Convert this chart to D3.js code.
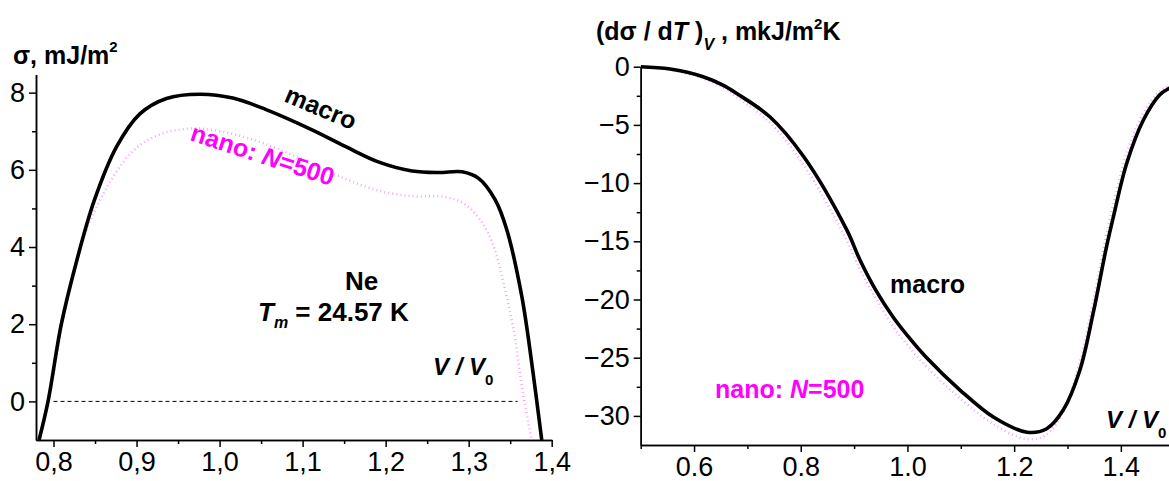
<!DOCTYPE html>
<html>
<head>
<meta charset="utf-8">
<script src="https://cdn.jsdelivr.net/npm/d3@7"></script>
<style>
  body { margin: 0; background: #fff; }
  svg { font-family: "Liberation Sans", Arial, sans-serif; }
  .tick text { font-size: 27px; fill: #000; }
  .axis path, .axis line { stroke: #000; stroke-width: 1.5; }
</style>
</head>
<body>
<script>
// left panel: surface tension sigma vs V/V0
const leftMacroV = [0.7826, 0.7934, 0.8094, 0.8274, 0.849, 0.876, 0.904, 0.936, 0.976, 1.016, 1.056, 1.112, 1.152, 1.192, 1.232, 1.264, 1.292, 1.312, 1.332, 1.346, 1.364, 1.376, 1.388]
const leftMacroS = [-1, 0, 2, 3.6, 5.2, 6.6, 7.45, 7.85, 7.96, 7.86, 7.56, 7.03, 6.6, 6.2, 5.97, 5.93, 5.95, 5.78, 5.22, 4.44, 2.72, 0.99, -1]
const leftNanoV = [0.797, 0.8, 0.814, 0.834, 0.858, 0.894, 0.926, 0.966, 1.006, 1.054, 1.11, 1.15, 1.19, 1.23, 1.27, 1.294, 1.314, 1.328, 1.338, 1.354, 1.366, 1.376]
const leftNanoS = [0.4, 0.74, 2.37, 4.1, 5.3, 6.45, 6.9, 7.07, 6.98, 6.68, 6.17, 5.78, 5.47, 5.32, 5.3, 5.13, 4.7, 4.14, 3.41, 1.86, 0.13, -1]
const leftXTicks = [0.8, 0.9, 1.0, 1.1, 1.2, 1.3, 1.4]
const leftXMinor = [0.85, 0.95, 1.05, 1.15, 1.25, 1.35]
const leftYTicks = [0, 2, 4, 6, 8]
const leftYMinor = [1, 3, 5, 7]

// right panel: (dsigma/dT)_V vs V/V0
const rightMacroV = [0.5, 0.555, 0.617, 0.655, 0.68, 0.742, 0.805, 0.886, 0.911, 0.942, 0.973, 1.0, 1.036, 1.099, 1.161, 1.224, 1.261, 1.292, 1.323, 1.348, 1.373, 1.386, 1.411, 1.442, 1.473, 1.489, 1.5]
const rightMacroD = [0, -0.2, -0.86, -1.6, -2.3, -4.3, -7.7, -14.0, -16.6, -19.3, -21.5, -23.1, -25.0, -27.8, -30.1, -31.4, -31.1, -29.5, -26.1, -21.2, -15.5, -12.9, -8.3, -4.6, -2.4, -1.9, -1.7]
const rightNanoV = [0.5, 0.555, 0.617, 0.655, 0.68, 0.742, 0.805, 0.886, 0.911, 0.942, 0.973, 1.0, 1.036, 1.099, 1.161, 1.224, 1.261, 1.292, 1.323, 1.348, 1.373, 1.386, 1.411, 1.442, 1.473, 1.489]
const rightNanoD = [0, -0.25, -1.0, -1.8, -2.6, -4.8, -8.4, -14.9, -17.4, -20.0, -22.3, -23.9, -25.8, -28.5, -30.7, -32.0, -31.6, -29.6, -25.4, -20.2, -14.4, -11.8, -7.4, -4.0, -2.1, -1.7]
const rightXTicks = [0.6, 0.8, 1.0, 1.2, 1.4]
const rightXMinor = [0.5, 0.7, 0.9, 1.1, 1.3, 1.5]
const rightYTicks = [0, -5, -10, -15, -20, -25, -30]
const rightYMinor = [-2.5, -7.5, -12.5, -17.5, -22.5, -27.5]

let w = 1169
let h = 481
const nanoColor = '#f49cf4'
const labelMagenta = '#ff00ff'

let svg = d3.select('body').append('svg')
  .attr('width', w).attr('height', h)

function panel(opts) {
  const x = d3.scaleLinear().domain(opts.xDomain).range(opts.xRange)
  const y = d3.scaleLinear().domain(opts.yDomain).range(opts.yRange)
  const g = svg.append('g')
  const bottom = opts.yRange[0], left = opts.xRange[0]

  g.append('g').attr('class', 'axis').attr('transform', `translate(0,${bottom})`)
    .call(d3.axisBottom(x).tickValues(opts.xMinor).tickSize(4).tickSizeOuter(0).tickFormat(''))
  g.append('g').attr('class', 'axis').attr('transform', `translate(0,${bottom})`)
    .call(d3.axisBottom(x).tickValues(opts.xTicks).tickSize(7).tickSizeOuter(0).tickPadding(5).tickFormat(opts.xFormat))
  g.append('g').attr('class', 'axis').attr('transform', `translate(${left},0)`)
    .call(d3.axisLeft(y).tickValues(opts.yMinor).tickSize(4).tickSizeOuter(0).tickFormat(''))
  g.append('g').attr('class', 'axis').attr('transform', `translate(${left},0)`)
    .call(d3.axisLeft(y).tickValues(opts.yTicks).tickSize(7).tickSizeOuter(0).tickPadding(4).tickFormat(d3.format('d')))
  g.selectAll('.tick text').attr('font-family', '"Liberation Sans", Arial, sans-serif')

  const line = d3.line().x(d => x(d[0])).y(d => y(d[1])).curve(d3.curveCatmullRom.alpha(0.5))

  const clipId = 'clip' + Math.round(left)
  svg.append('clipPath').attr('id', clipId).append('rect')
    .attr('x', left).attr('y', opts.yRange[1] - 20)
    .attr('width', opts.xRange[1] - left + 20).attr('height', bottom - opts.yRange[1] + 20)

  g.append('path').datum(d3.zip(opts.nanoV, opts.nanoY))
    .attr('d', line).attr('fill', 'none').attr('clip-path', `url(#${clipId})`)
    .attr('stroke', nanoColor).attr('stroke-width', 2.5).attr('stroke-dasharray', '0.9 3.2')
  g.append('path').datum(d3.zip(opts.macroV, opts.macroY))
    .attr('d', line).attr('fill', 'none').attr('clip-path', `url(#${clipId})`)
    .attr('stroke', '#000').attr('stroke-width', 3.6)
  return {x, y, g}
}

const L = panel({
  xDomain: [0.7789, 1.4], xRange: [36, 551.7],
  yDomain: [-1, 8.47], yRange: [440, 74.5],
  xTicks: leftXTicks, xMinor: leftXMinor, yTicks: leftYTicks, yMinor: leftYMinor,
  xFormat: d => d3.format('.1f')(d).replace('.', ','),
  macroV: leftMacroV, macroY: leftMacroS, nanoV: leftNanoV, nanoY: leftNanoS
})
// zero line
L.g.append('line')
  .attr('x1', L.x(0.8)).attr('x2', L.x(1.359)).attr('y1', L.y(0)).attr('y2', L.y(0))
  .attr('stroke', '#000').attr('stroke-width', 1).attr('stroke-dasharray', '4 3')

const R = panel({
  xDomain: [0.5, 1.5], xRange: [640.7, 1174.2],
  yDomain: [-32.5, 0], yRange: [445, 66.7],
  xTicks: rightXTicks, xMinor: rightXMinor, yTicks: rightYTicks, yMinor: rightYMinor,
  xFormat: d3.format('.1f'),
  macroV: rightMacroV, macroY: rightMacroD, nanoV: rightNanoV, nanoY: rightNanoD
})

// texts
function txt(x, y, size, color, parts, rot) {
  const t = svg.append('text').attr('x', x).attr('y', y)
    .attr('font-size', size).attr('font-weight', 'bold').attr('fill', color)
  if (rot) t.attr('transform', `rotate(${rot},${x},${y})`)
  parts.forEach(p => {
    const s = t.append('tspan').text(p.t)
    if (p.i) s.attr('font-style', 'italic')
    if (p.sub) s.attr('dy', p.sub).attr('font-size', p.fs || size * 0.6)
    if (p.dx) s.attr('dx', p.dx)
  })
  return t
}

txt(13, 64, 25, '#000', [{t: 'σ, mJ/m'}, {t: '2', sub: -12, fs: 15}])
txt(283, 101, 25, '#000', [{t: 'macro'}], 23)
txt(189, 140, 25, labelMagenta, [{t: 'nano: '}, {t: 'N', i: true}, {t: '=500'}], 18)
txt(345, 290, 26, '#000', [{t: 'Ne'}])
txt(258, 321, 26, '#000', [{t: 'T', i: true}, {t: 'm', i: true, sub: 7, fs: 16}, {t: ' = 24.57 K', sub: -7, fs: 26}])
txt(433, 375, 24, '#000', [{t: 'V', i: true}, {t: ' / ', i: true}, {t: 'V', i: true}, {t: '0', sub: 10, fs: 15}])

txt(596, 40, 25, '#000', [{t: '(dσ / d'}, {t: 'T', i: true}, {t: ' )'}, {t: 'V', i: true, sub: 10, fs: 16}, {t: ' , mkJ/m', sub: -10, fs: 25}, {t: '2', sub: -11, fs: 15}, {t: 'K', sub: 11, fs: 25}])
txt(890, 293, 25, '#000', [{t: 'macro'}])
txt(715, 398, 25, labelMagenta, [{t: 'nano: '}, {t: 'N', i: true}, {t: '=500'}])
txt(1106, 428, 24, '#000', [{t: 'V', i: true}, {t: ' / ', i: true}, {t: 'V', i: true}, {t: '0', sub: 10, fs: 15}])
</script>
</body>
</html>
